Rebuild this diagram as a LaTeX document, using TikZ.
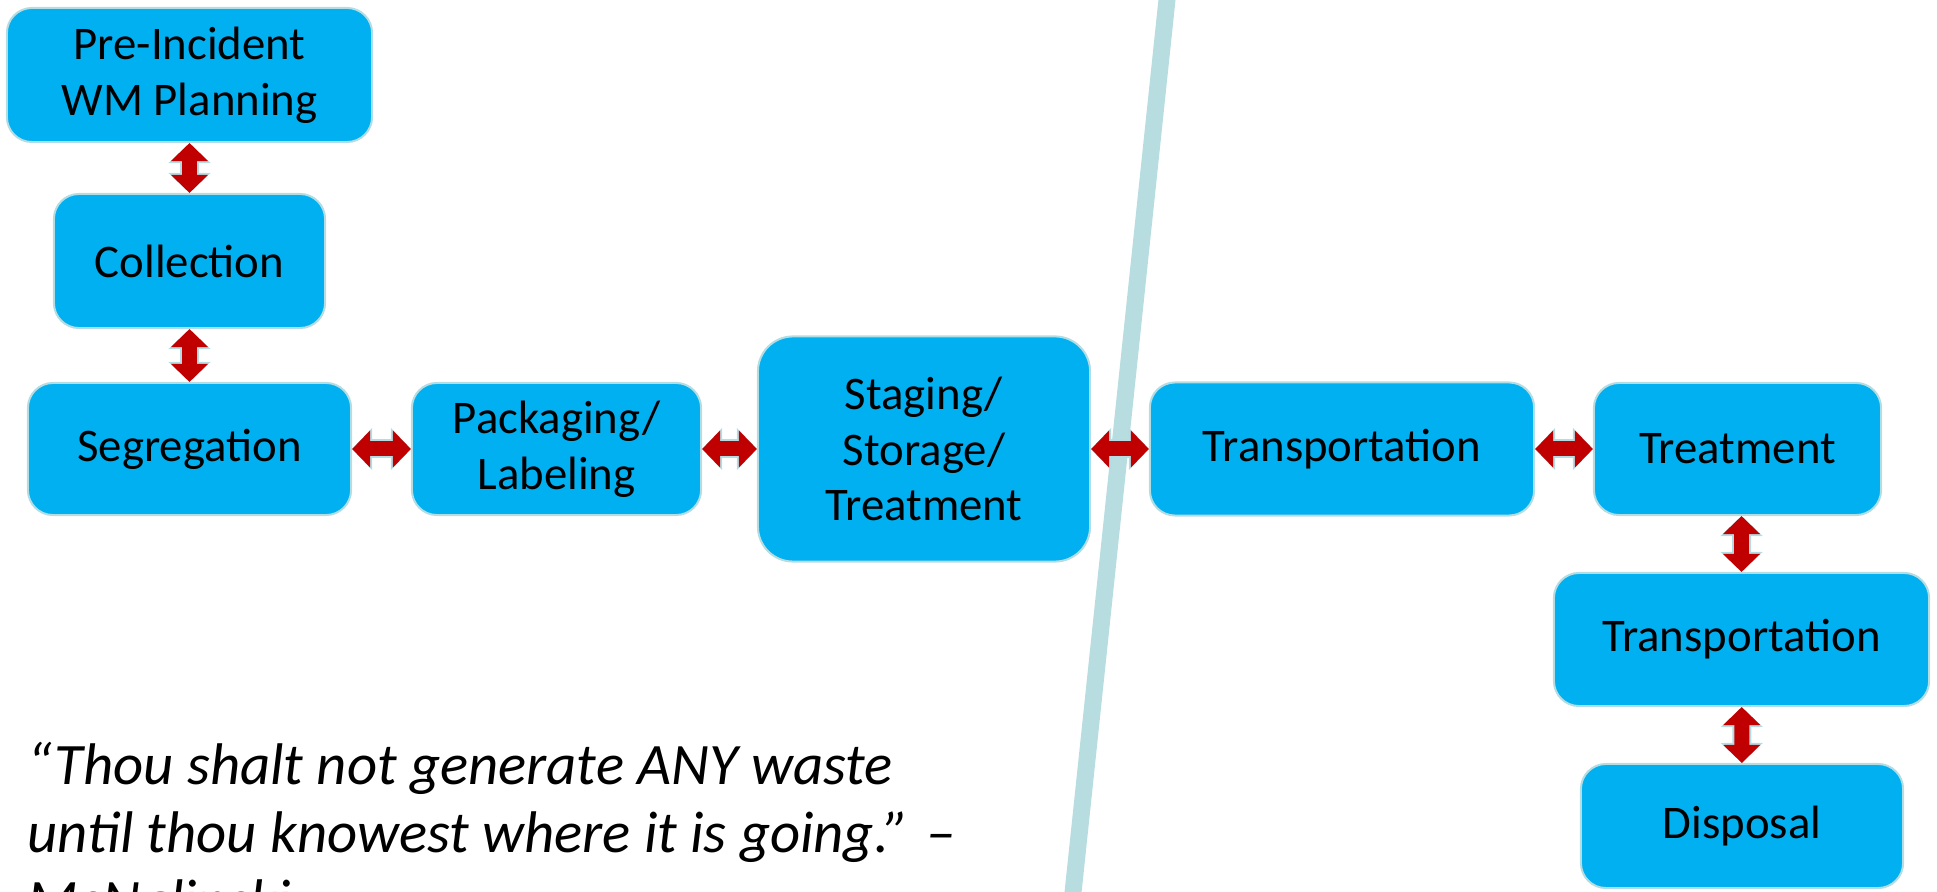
\documentclass[tikz,border=0pt]{standalone}
\usepackage{fontspec}
\setmainfont{Carlito}
\usetikzlibrary{arrows.meta}
\definecolor{boxblue}{HTML}{00B0F0}
\definecolor{boxedge}{HTML}{B4DCE3}
\definecolor{arrowred}{HTML}{C00000}
\definecolor{divider}{HTML}{B7DDE1}

\begin{document}
\begin{tikzpicture}[x=0.01cm, y=-0.01cm,
	box/.style={draw=boxedge, line width=0.02cm, fill=boxblue, rounded corners=0.25cm, align=center, inner sep=0pt, font=\fontsize{13.3}{15.9}\selectfont},
	link/.style={draw=arrowred, line width=0.15cm, {Triangle[width=0.36cm,length=0.18cm]}-{Triangle[width=0.36cm,length=0.18cm]},
		preaction={draw=boxedge, line width=0.19cm, arrows={Triangle[width=0.41cm,length=0.2cm]-Triangle[width=0.41cm,length=0.2cm]}}}]
	\useasboundingbox (0,0) rectangle (1937,892);

	% dividing line
	\draw[divider, line width=0.17cm] (1168,-10) -- (1072,902);

	% left part
	\node[box, minimum width=3.65cm, minimum height=1.34cm] (pre) at (189.5,75) {Pre-Incident\\WM Planning};
	\node[box, minimum width=2.71cm, minimum height=1.34cm] (coll) at (189.5,261) {Collection};
	\node[box, minimum width=3.23cm, minimum height=1.32cm] (seg) at (189.5,449) {Segregation};
	\node[box, minimum width=2.89cm, minimum height=1.32cm] (pack) at (556.5,449) {Packaging/\\Labeling};
	\node[box, minimum width=3.32cm, minimum height=2.25cm, rounded corners=0.35cm] (stag) at (924,449) {Staging/\\Storage/\\Treatment};

	% right part
	\node[box, minimum width=3.84cm, minimum height=1.33cm] (trans1) at (1342,449) {Transportation};
	\node[box, minimum width=2.87cm, minimum height=1.32cm] (treat) at (1737.5,449) {Treatment};
	\node[box, minimum width=3.75cm, minimum height=1.33cm] (trans2) at (1741.5,639.5) {Transportation};
	\node[box, minimum width=3.22cm, minimum height=1.24cm] (disp) at (1742,826) {Disposal};

	\draw[link] (pre) -- (coll);
	\draw[link] (coll) -- (seg);
	\draw[link] (seg) -- (pack);
	\draw[link] (pack) -- (stag);
	\draw[link] (stag) -- (trans1);
	\draw[link] (trans1) -- (treat);
	\draw[link] (treat.south -| trans2.north) -- (trans2.north);
	\draw[link] (trans2) -- (disp);

	% quote (last line runs off the bottom)
	\node[anchor=base west, align=left, inner sep=0pt, font=\fontsize{16.7}{19.3}\selectfont\itshape] (quote) at (27,920)
		{“Thou shalt not generate ANY waste\\until thou knowest where it is going.” –\\McNalinski};
\end{tikzpicture}
\end{document}
